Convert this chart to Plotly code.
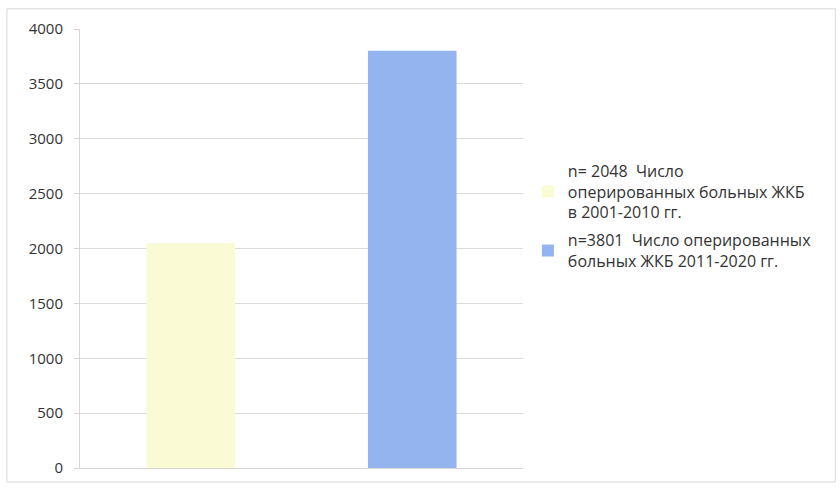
import plotly.graph_objects as go

categories = ["2001-2010", "2011-2020"]
values = [2048, 3801]
series_names = [
    "n= 2048  Число<br>оперированных больных ЖКБ<br>в 2001-2010 гг.",
    "n=3801  Число оперированных<br>больных ЖКБ 2011-2020 гг.",
]
colors = ["#FAFAD4", "#93B4EF"]
y_ticks = [0, 500, 1000, 1500, 2000, 2500, 3000, 3500, 4000]

fig = go.Figure()
for cat, val, name, col in zip(categories, values, series_names, colors):
    fig.add_trace(go.Bar(x=[cat], y=[val], name=name, legendgroup=cat,
                         marker=dict(color=col, line=dict(width=0))))

fig.update_layout(
    width=840, height=488,
    margin=dict(l=80, r=317, t=29, b=20),
    paper_bgcolor="white", plot_bgcolor="white",
    barmode="overlay", bargap=0.6,
    font=dict(family="Open Sans", size=15, color="#333333"),
    showlegend=True,
    legend=dict(x=1.011, y=0.716, xanchor="left", yanchor="top",
                font=dict(size=16, color="#333333"), itemwidth=30,
                tracegroupgap=4, bgcolor="rgba(0,0,0,0)"),
    xaxis=dict(categoryorder="array", categoryarray=categories, showticklabels=False,
               showgrid=False, showline=True, linecolor="#D6D6D6", linewidth=1,
               zeroline=False, ticks=""),
    yaxis=dict(range=[0, 4000], tickvals=y_ticks, showgrid=True, gridcolor="#DADADA",
               gridwidth=1, showline=True, linecolor="#D6D6D6", linewidth=1,
               ticks="outside", ticklen=5, tickcolor="#D6D6D6", zeroline=False,
               ticklabelstandoff=8, tickfont=dict(size=15, color="#333333")),
    shapes=[dict(type="rect", xref="paper", yref="paper",
                 x0=-0.165, x1=1.705, y0=-0.032, y1=1.046,
                 line=dict(color="#D8D8D8", width=1), fillcolor="rgba(0,0,0,0)", layer="below")],
)

fig.write_html("out.html")
